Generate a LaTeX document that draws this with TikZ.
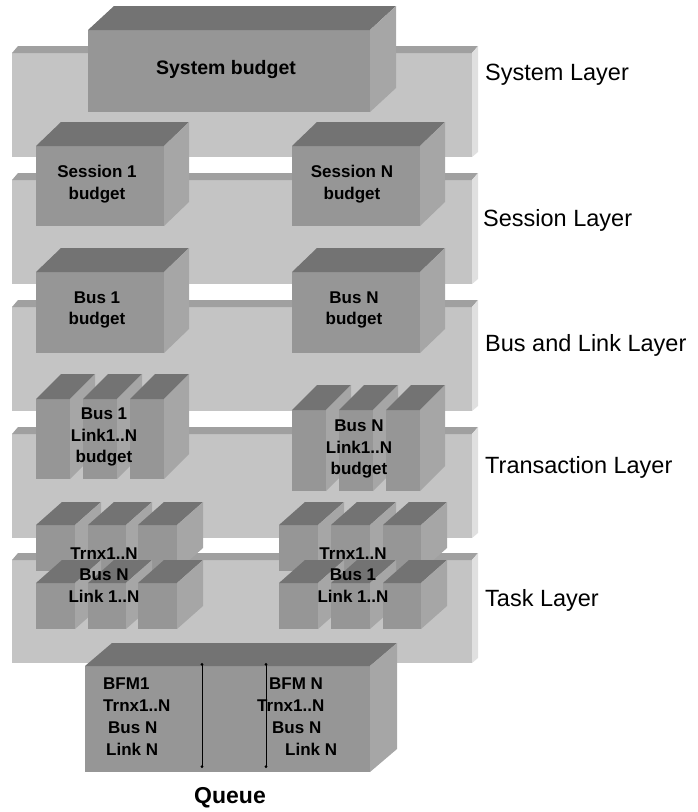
\documentclass[tikz,border=0pt]{standalone}
\usepackage{fontspec}
\setmainfont{Liberation Sans}
\usetikzlibrary{arrows.meta}

\definecolor{slabfront}{HTML}{C4C4C4}
\definecolor{slabtop}{HTML}{A0A0A0}
\definecolor{slabside}{HTML}{E0E0E0}
\definecolor{blkfront}{HTML}{969696}
\definecolor{blktop}{HTML}{737373}
\definecolor{blkside}{HTML}{A6A6A6}

% a flat layer slab: thin top edge and thin right side
\newcommand\layerslab[2]{%
  \fill[slabfront] (12,#1+7) rectangle (472,#2);
  \fill[slabtop] (12,#1+7) -- (18,#1) -- (478,#1) -- (472,#1+7) -- cycle;
  \fill[slabside] (472,#1+7) -- (478,#1) -- (478,#2-5) -- (472,#2) -- cycle;
}
% a solid block: front face (x1,y1)-(x2,y2), depth (dx,dy)
\newcommand\blockbox[6]{%
  \fill[blkfront] (#1,#2) rectangle (#3,#4);
  \fill[blktop] (#1,#2) -- ({#1+#5},{#2+#6}) -- ({#3+#5},{#2+#6}) -- (#3,#2) -- cycle;
  \fill[blkside] (#3,#2) -- ({#3+#5},{#2+#6}) -- ({#3+#5},{#4+#6}) -- (#3,#4) -- cycle;
}

\tikzset{
  blklabel/.style={align=center, inner sep=0pt, font=\fontsize{17}{21.5}\selectfont\bfseries},
  biglabel/.style={align=center, inner sep=0pt, font=\fontsize{19.5}{23}\selectfont\bfseries},
  qlabel/.style={anchor=west, inner sep=0pt, font=\fontsize{17}{21}\selectfont\bfseries},
  layerlabel/.style={anchor=west, inner sep=0pt, font=\fontsize{23.5}{27}\selectfont},
  qline/.style={line width=1pt, {Circle[length=2.6pt]}-{Circle[length=2.6pt]}},
}

\begin{document}
\begin{tikzpicture}[x=1pt, y=-1pt]
\useasboundingbox (0,0) rectangle (698,812);

% layer slabs
\layerslab{46}{157}
\layerslab{173}{284}
\layerslab{300}{411}
\layerslab{427}{538}
\layerslab{553}{663}

% system layer
\blockbox{88}{30}{370}{112}{26}{-24}
% session layer
\blockbox{36}{146}{164}{226}{25}{-24}
\blockbox{292}{146}{420}{226}{25}{-24}
% bus and link layer
\blockbox{36}{272}{164}{353}{25}{-24}
\blockbox{292}{272}{420}{353}{25}{-24}
% transaction layer: three thin blocks per bus
\blockbox{36}{399}{70}{479}{25}{-25}
\blockbox{83}{399}{117}{479}{25}{-25}
\blockbox{130}{399}{164}{479}{25}{-25}
\blockbox{292}{410}{326}{491}{25}{-25}
\blockbox{339}{410}{373}{491}{25}{-25}
\blockbox{386}{410}{420}{491}{25}{-25}
% task layer: two rows of cubes per bus
\blockbox{36}{525}{75}{571}{26}{-23}
\blockbox{88}{525}{126}{571}{26}{-23}
\blockbox{138}{525}{177}{571}{26}{-23}
\blockbox{279}{525}{318}{571}{26}{-23}
\blockbox{331}{525}{370}{571}{26}{-23}
\blockbox{383}{525}{421}{571}{26}{-23}
\blockbox{36}{583}{75}{629}{26}{-23}
\blockbox{88}{583}{126}{629}{26}{-23}
\blockbox{138}{583}{177}{629}{26}{-23}
\blockbox{279}{583}{318}{629}{26}{-23}
\blockbox{331}{583}{370}{629}{26}{-23}
\blockbox{383}{583}{421}{629}{26}{-23}
% queue
\blockbox{85}{666}{370}{772}{27}{-23}

% block labels
\node[biglabel] (sysbudget) at (226,69) {System budget};
\node[blklabel] (sess1) at (97,184) {Session 1\\budget};
\node[blklabel] (sessN) at (352,184) {Session N\\budget};
\node[blklabel] (bus1) at (97,310) {Bus 1\\budget};
\node[blklabel] (busN) at (354,310) {Bus N\\budget};
\node[blklabel] (link1) at (104,437) {Bus 1\\Link1..N\\budget};
\node[blklabel] (linkN) at (359,449) {Bus N\\Link1..N\\budget};
\node[blklabel] (task1) at (104,575) {Trnx1..N\\Bus N\\Link 1..N};
\node[blklabel] (taskN) at (353,575) {Trnx1..N\\Bus 1\\Link 1..N};

% queue contents
\coordinate (qa1) at (202,663);
\coordinate (qa2) at (202,768);
\coordinate (qb1) at (266,663);
\coordinate (qb2) at (266,768);
\draw[qline] (qa1) -- (qa2);
\draw[qline] (qb1) -- (qb2);
\node[qlabel] (qbfm1) at (103,684) {BFM1};
\node[qlabel] (qtrn1) at (103,706) {Trnx1..N};
\node[qlabel] (qbus1) at (108,728) {Bus N};
\node[qlabel] (qlnk1) at (106,749) {Link N};
\node[qlabel] (qbfmN) at (269,684) {BFM N};
\node[qlabel] (qtrnN) at (257,706) {Trnx1..N};
\node[qlabel] (qbusN) at (272,728) {Bus N};
\node[qlabel] (qlnkN) at (285,749) {Link N};
\node[font=\fontsize{23}{27}\selectfont\bfseries, inner sep=0pt] (queue) at (230,798) {Queue};

% layer names
\node[layerlabel] (lsys) at (485,75) {System Layer};
\node[layerlabel] (lses) at (483,220) {Session Layer};
\node[layerlabel] (lbus) at (485,345) {Bus and Link Layer};
\node[layerlabel] (ltrn) at (485,467) {Transaction Layer};
\node[layerlabel] (ltsk) at (485,600) {Task Layer};
\end{tikzpicture}
\end{document}
